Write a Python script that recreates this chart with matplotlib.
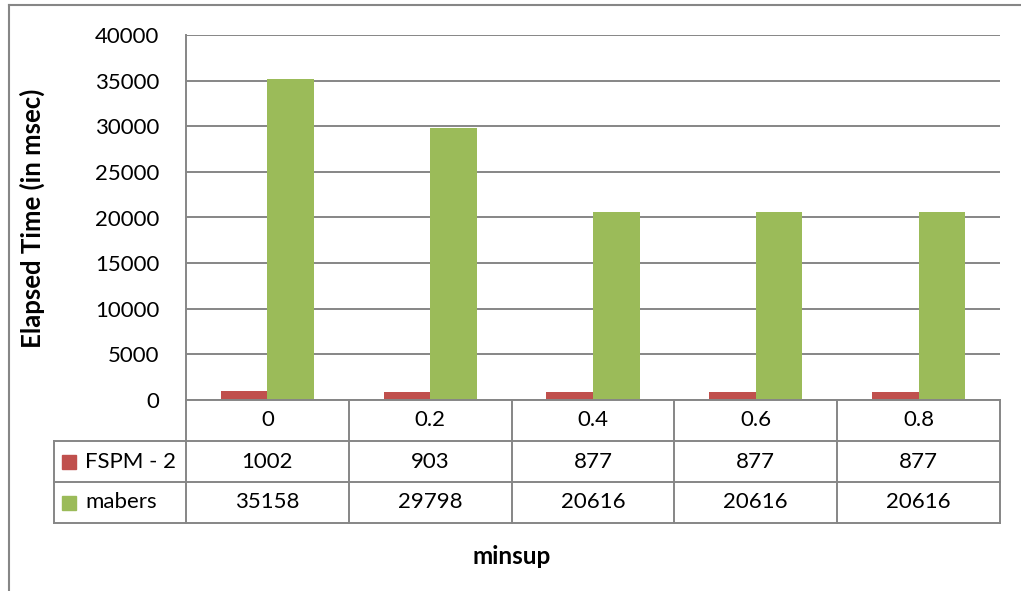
import matplotlib.pyplot as plt
import numpy as np

plt.rcParams["font.family"] = ["Lato", "DejaVu Sans"]

# minsup thresholds and elapsed times (msec)
minsup = ["0", "0.2", "0.4", "0.6", "0.8"]
series_names = ["FSPM - 2", "mabers"]
fspm2 = [1002, 903, 877, 877, 877]
mabers = [35158, 29798, 20616, 20616, 20616]
yticks = [0, 5000, 10000, 15000, 20000, 25000, 30000, 35000, 40000]

colors = ["#C0504D", "#9BBB59"]
line_c = "#868686"
fs = 16

W, H = 1021, 591
fig = plt.figure(figsize=(W / 100, H / 100), dpi=100)


def px(x0, y0, x1, y1):
    # pixel box (top-left origin) -> figure fraction rect
    return [x0 / W, 1 - y1 / H, (x1 - x0) / W, (y1 - y0) / H]


# outer chart frame (partly cropped)
fig.add_artist(plt.Line2D([9 / W, 9 / W], [0, 1 - 5 / H], color=line_c, lw=1.5))
fig.add_artist(plt.Line2D([9 / W, 1], [1 - 5 / H, 1 - 5 / H], color=line_c, lw=1.5))

ax = fig.add_axes(px(186, 35, 1000, 400))
x = np.arange(len(minsup))
bw = 0.286
ax.bar(x - bw / 2, fspm2, bw, color=colors[0], zorder=3)
ax.bar(x + bw / 2, mabers, bw, color=colors[1], zorder=3)

ax.set_xlim(-0.5, len(minsup) - 0.5)
ax.set_ylim(0, 40000)
ax.set_yticks(yticks)
ax.set_yticklabels([str(v) for v in yticks], fontsize=fs)
ax.set_xticks([])
ax.tick_params(axis="y", length=0, pad=19)
ax.yaxis.grid(True, color=line_c, lw=1.4, zorder=0)
for s in ["top", "right", "bottom"]:
    ax.spines[s].set_visible(False)
ax.spines["left"].set_color(line_c)
ax.spines["left"].set_linewidth(1.4)

# data table under the plot
tb = fig.add_axes(px(186, 400, 1000, 523))
tb.set_xlim(-0.5, len(minsup) - 0.5)
tb.set_ylim(3, 0)
tb.axis("off")
left = -0.5 - (186 - 54) / 162.8
kw = dict(color=line_c, lw=1.4, clip_on=False)
tb.plot([-0.5, len(minsup) - 0.5], [0, 0], **kw)
for r in [1, 2, 3]:
    tb.plot([left, len(minsup) - 0.5], [r, r], **kw)
tb.plot([left, left], [1, 3], **kw)
for c in range(len(minsup) + 1):
    tb.plot([c - 0.5, c - 0.5], [0, 3], **kw)

for i, lab in enumerate(minsup):
    tb.text(i, 0.5, lab, ha="center", va="center", fontsize=fs)
for r, (name, vals, col) in enumerate(zip(series_names, [fspm2, mabers], colors), start=1):
    tb.plot([left + 0.095], [r + 0.5], "s", color=col, ms=10, clip_on=False)
    tb.text(left + 0.19, r + 0.5, name, ha="left", va="center", fontsize=fs)
    for i, v in enumerate(vals):
        tb.text(i, r + 0.5, str(v), ha="center", va="center", fontsize=fs)

fig.text(32 / W, 1 - 218 / H, "Elapsed Time (in msec)", rotation=90,
         ha="center", va="center", fontsize=18.5, fontweight="bold")
fig.text(512 / W, 1 - 556 / H, "minsup", ha="center", va="center",
         fontsize=17.5, fontweight="bold")

fig.savefig("out.png", dpi=100)
